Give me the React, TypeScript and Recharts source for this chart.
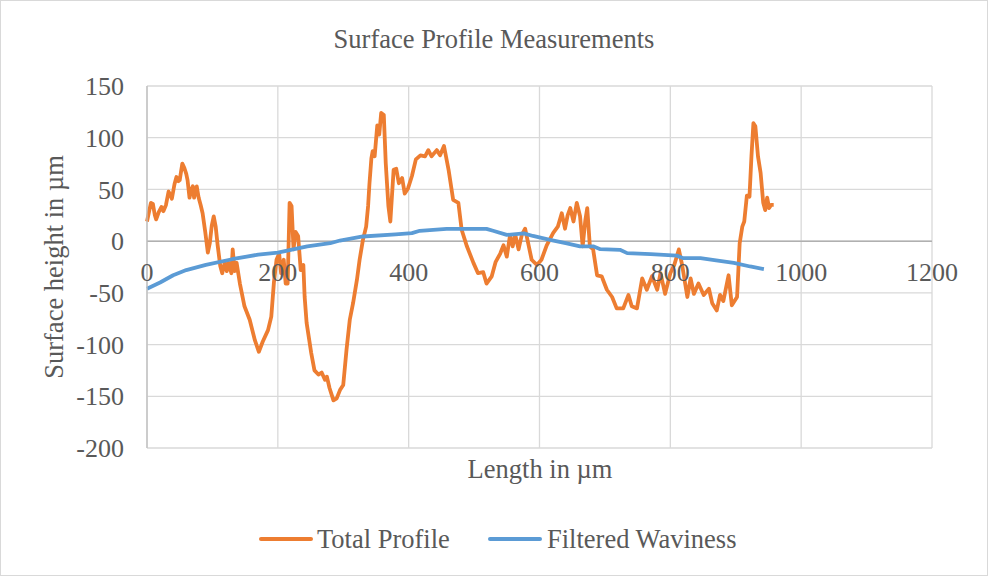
import React from "react";
import {
  LineChart,
  Line,
  XAxis,
  YAxis,
  CartesianGrid,
  ReferenceLine,
} from "recharts";

const LENGTH_TICKS = [0, 200, 400, 600, 800, 1000, 1200];
const HEIGHT_TICKS = [-200, -150, -100, -50, 0, 50, 100, 150];

// Total profile (µm along, µm height)
const PROFILE_X = [
  0, 3, 6, 9, 12, 14, 18, 22, 25, 29, 33, 36, 38, 42, 45, 48, 50, 54, 57, 60,
  62, 65, 68, 70, 72, 76, 79, 82, 85, 89, 93, 96, 99, 102, 105, 108, 112, 115,
  119, 122, 125, 129, 131, 134, 137, 142, 149, 157, 165, 171, 177, 185, 190,
  194, 198, 202, 205, 209, 212, 215, 218, 221, 224, 227, 231, 235, 239, 241,
  244, 251, 256, 262, 267, 272, 275, 279, 285, 290, 295, 300, 305, 310, 315,
  321, 325, 330, 335, 338, 340, 343, 345, 348, 352, 355, 358, 362, 365, 369,
  372, 377, 381, 385, 390, 394, 399, 405, 411, 418, 425, 430, 435, 443, 448,
  454, 461, 468, 476, 481, 489, 499, 506, 514, 519, 527, 533, 540, 545, 550,
  555, 559, 563, 568, 573, 578, 588, 596, 603, 611, 621, 628, 634, 639, 643,
  647, 652, 657, 662, 666, 670, 673, 677, 682, 688, 695, 703, 711, 718, 728,
  736, 741, 749, 757, 764, 772, 780, 785, 792, 800, 806, 813, 818, 826, 831,
  836, 843, 851, 859, 864, 871, 876, 881, 889, 894, 902, 906, 910, 913, 917,
  921, 924, 927, 930, 934, 938, 942, 945, 948, 951, 954, 958,
];
const PROFILE_Y = [
  19, 28, 37, 36, 25, 21, 28, 33, 29, 35, 48, 44, 41, 55, 62, 58, 59, 75, 71,
  65, 59, 42, 50, 53, 42, 53, 42, 35, 27, 9, -11, -2, 15, 24, 14, -4, -24, -31,
  -20, -29, -21, -31, -8, -29, -21, -41, -63, -76, -96, -107, -97, -86, -73,
  -40, -18, -12, -31, -18, -41, -41, 37, 34, -8, 9, 5, -28, -23, -54, -79,
  -108, -125, -129, -127, -134, -131, -142, -154, -152, -144, -139, -105, -76,
  -60, -37, -18, 1, 14, 34, 55, 80, 87, 82, 112, 103, 124, 122, 75, 34, 19, 69,
  70, 56, 61, 46, 51, 63, 79, 83, 82, 88, 82, 88, 83, 92, 69, 40, 37, 11, -5,
  -21, -31, -30, -41, -34, -20, -12, -4, -15, 6, -5, 6, -8, 6, 12, -18, -23,
  -18, -4, 8, 14, 27, 12, 25, 32, 19, 37, 24, -5, 20, 32, -5, -8, -33, -34,
  -47, -54, -65, -65, -52, -63, -65, -36, -47, -34, -47, -31, -51, -31, -23,
  -8, -23, -54, -36, -51, -41, -52, -46, -60, -67, -52, -58, -33, -62, -54, -2,
  14, 19, 44, 43, 82, 114, 111, 82, 66, 37, 30, 42, 32, 35, 35,
];

// Filtered waviness
const WAVINESS_X = [
  0, 20, 40, 60, 90, 130, 170, 200, 245, 280, 295, 330, 380, 405, 417, 458,
  519, 529, 550, 576, 590, 616, 640, 662, 682, 693, 723, 734, 770, 810, 820,
  846, 870, 897, 922, 943,
];
const WAVINESS_Y = [
  -46, -40, -33, -28, -23, -17.5, -13, -11, -5, -2, 0.6, 4.5, 6.5, 7.7, 10,
  11.9, 11.9, 10, 6, 7.5, 5, 1.3, -2, -5, -5, -7.8, -8.4, -11.6, -12.5, -14,
  -16.5, -16.5, -18.5, -21, -24.5, -27,
];

const profileData = PROFILE_X.map((x, i) => ({ x, y: PROFILE_Y[i] }));
const wavinessData = WAVINESS_X.map((x, i) => ({ x, y: WAVINESS_Y[i] }));

const W = 988;
const H = 576;
const X_AXIS_H = 1;
const MARGIN = { top: 86, right: 56, bottom: 128 - X_AXIS_H, left: 87 };
const Y_AXIS_W = 60;
const PLOT_LEFT = MARGIN.left + Y_AXIS_W;
const PLOT_TOP = MARGIN.top;
const PLOT_H = 448 - PLOT_TOP;
const ZERO_Y = PLOT_TOP + (150 / 350) * PLOT_H;

const FONT = '"Liberation Serif", "Times New Roman", serif';
const TEXT = "#595959";
const ORANGE = "#ED7D31";
const BLUE = "#5B9BD5";

const renderXTick = (props: any) => (
  <text
    key={props.index}
    x={props.x}
    y={ZERO_Y + 40}
    textAnchor="middle"
    fill={TEXT}
    fontSize={26}
    fontFamily={FONT}
  >
    {props.payload.value}
  </text>
);

const renderYTick = (props: any) => (
  <text
    key={props.index}
    x={PLOT_LEFT - 23}
    y={props.y}
    dy="0.35em"
    textAnchor="end"
    fill={TEXT}
    fontSize={26}
    fontFamily={FONT}
  >
    {props.payload.value}
  </text>
);

export default function App() {
  return (
    <div
      style={{
        position: "absolute",
        left: 0,
        top: 0,
        width: W,
        height: H,
        background: "#fff",
      }}
    >
      <LineChart width={W} height={H} margin={MARGIN}>
        <CartesianGrid stroke="#d9d9d9" strokeWidth={1.3} />
        <XAxis
          type="number"
          dataKey="x"
          domain={[0, 1200]}
          ticks={LENGTH_TICKS}
          interval={0}
          height={X_AXIS_H}
          axisLine={false}
          tickLine={false}
          tick={renderXTick}
        />
        <YAxis
          type="number"
          dataKey="y"
          domain={[-200, 150]}
          ticks={HEIGHT_TICKS}
          interval={0}
          width={Y_AXIS_W}
          axisLine={{ stroke: "#bfbfbf", strokeWidth: 1.3 }}
          tickLine={false}
          tick={renderYTick}
        />
        <ReferenceLine y={0} stroke="#b0b0b0" strokeWidth={1.5} />
        <Line
          data={profileData}
          dataKey="y"
          name="Total Profile"
          stroke={ORANGE}
          strokeWidth={3.8}
          strokeLinejoin="round"
          dot={false}
          isAnimationActive={false}
        />
        <Line
          data={wavinessData}
          dataKey="y"
          name="Filtered Waviness"
          stroke={BLUE}
          strokeWidth={3.8}
          strokeLinejoin="round"
          dot={false}
          isAnimationActive={false}
        />
      </LineChart>
      <svg
        width={W}
        height={H}
        style={{ position: "absolute", left: 0, top: 0, pointerEvents: "none" }}
        fontFamily={FONT}
        fill={TEXT}
      >
        <rect x={0.5} y={0.5} width={W - 1} height={H - 1} fill="none" stroke="#d9d9d9" />
        <text x={494} y={48} textAnchor="middle" fontSize={26.5}>
          Surface Profile Measurements
        </text>
        <text x={540} y={478} textAnchor="middle" fontSize={26.5}>
          Length in µm
        </text>
        <text
          transform={`translate(63, 267) rotate(-90)`}
          textAnchor="middle"
          fontSize={26.5}
        >
          Surface height in µm
        </text>
        <line x1={261} y1={539} x2={311} y2={539} stroke={ORANGE} strokeWidth={4} strokeLinecap="round" />
        <text x={317} y={548} fontSize={26.5}>
          Total Profile
        </text>
        <line x1={490} y1={539} x2={540} y2={539} stroke={BLUE} strokeWidth={4} strokeLinecap="round" />
        <text x={547} y={548} fontSize={26.5}>
          Filtered Waviness
        </text>
      </svg>
    </div>
  );
}
